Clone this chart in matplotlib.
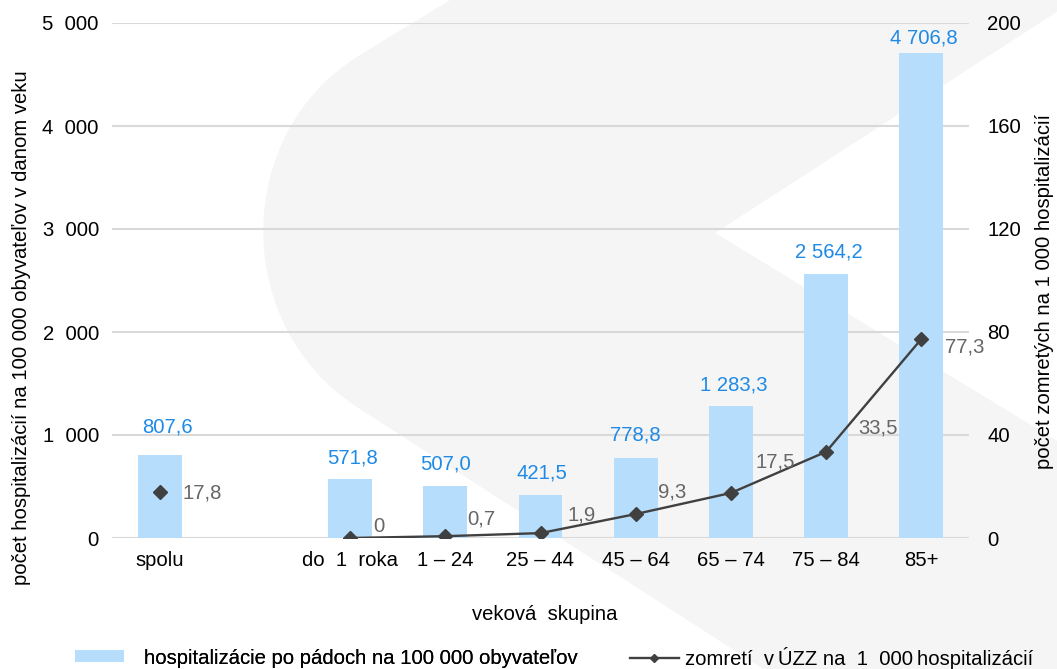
import numpy as np
import matplotlib.pyplot as plt
from matplotlib.path import Path
from matplotlib.patches import PathPatch, Patch
from matplotlib.lines import Line2D

plt.rcParams['font.family'] = ['Liberation Sans', 'DejaVu Sans']
plt.rcParams['font.size'] = 14.6

# vekové skupiny (druhá pozícia je prázdna medzera za "spolu")
skupiny = ["spolu", "", "do  1  roka", "1 – 24", "25 – 44", "45 – 64",
           "65 – 74", "75 – 84", "85+"]
hospitalizacie = [807.6, np.nan, 571.8, 507.0, 421.5, 778.8, 1283.3, 2564.2, 4706.8]
zomreti = [17.8, np.nan, 0.0, 0.7, 1.9, 9.3, 17.5, 33.5, 77.3]

lave_ticky = [0, 1000, 2000, 3000, 4000, 5000]
lave_popisy = ["0", "1  000", "2  000", "3  000", "4  000", "5  000"]
prave_ticky = [0, 40, 80, 120, 160, 200]
prave_popisy = ["0", "40", "80", "120", "160", "200"]

# posuny popiskov v pixeloch (dx, dy)
posun_stlpce = [(8, 28), None, (2, 21), (0, 22), (1, 22), (0, 23), (3, 21), (3, 22), (2, 15)]
posun_ciara = [(23, -1), None, (23, 11), (22, 17), (27, 18), (22, 22), (25, 31), (32, 24), (24, -8)]

W, H = 1057, 669
fig = plt.figure(figsize=(W / 100, H / 100), dpi=100)


def px(x, y):
    return (x / W, 1 - y / H)


# sivé logo v pozadí
verts = [px(460, -6), px(360, 55), px(231, 134), px(231, 328), px(360, 409),
         px(1120, 899), px(1120, 479), px(715, 233), px(1120, -29), px(460, -6)]
codes = [Path.MOVETO, Path.LINETO, Path.CURVE4, Path.CURVE4, Path.CURVE4,
         Path.LINETO, Path.LINETO, Path.LINETO, Path.LINETO, Path.CLOSEPOLY]
logo = PathPatch(Path(verts, codes), facecolor='#f5f5f5', edgecolor='none',
                 transform=fig.transFigure, zorder=-5)
fig.add_artist(logo)

ax = fig.add_axes([112 / W, (H - 538) / H, 857 / W, 515 / H])
ax.set_facecolor('none')
ax2 = ax.twinx()
ax2.set_facecolor('none')

x = np.arange(len(skupiny))
bar_color = '#b6ddfb'
line_color = '#404040'
blue = '#1e8ae6'
gray = '#666666'

ax.bar(x, hospitalizacie, width=0.46, color=bar_color, zorder=2)
ax2.plot(x, zomreti, color=line_color, lw=1.7, marker='D', ms=7, zorder=3)

for i, v in enumerate(hospitalizacie):
    if np.isnan(v):
        continue
    txt = f"{v:,.1f}".replace(",", " ").replace(".", ",")
    dx, dy = posun_stlpce[i]
    ax.annotate(txt, (x[i], v), xytext=(dx, dy), textcoords='offset pixels',
                ha='center', va='center', color=blue, zorder=4)

for i, v in enumerate(zomreti):
    if np.isnan(v):
        continue
    txt = "0" if v == 0 else f"{v:.1f}".replace(".", ",")
    dx, dy = posun_ciara[i]
    ax2.annotate(txt, (x[i], v), xytext=(dx, dy), textcoords='offset pixels',
                 ha='left', va='center', color=gray, zorder=4)

ax.set_xlim(-0.5, len(skupiny) - 0.5)
ax.set_ylim(0, 5000)
ax2.set_ylim(0, 200)
ax.set_yticks(lave_ticky)
ax.set_yticklabels(lave_popisy)
ax2.set_yticks(prave_ticky)
ax2.set_yticklabels(prave_popisy)
ax.set_xticks(x)
ax.set_xticklabels(skupiny)

ax.grid(axis='y', color='#d9d9d9', lw=1.5, zorder=0)
ax.set_axisbelow(True)
for a in (ax, ax2):
    for s in a.spines.values():
        s.set_visible(False)
ax.tick_params(axis='both', length=0)
ax.tick_params(axis='y', pad=9.5)
ax.tick_params(axis='x', pad=9)
ax2.tick_params(axis='y', length=0, pad=13)

fig.text(22 / W, 1 - 328 / H, "počet hospitalizácií na 100 000 obyvateľov v danom veku",
         rotation=90, ha='center', va='center')
fig.text(1045 / W, 1 - 291 / H, "počet zomretých na 1 000 hospitalizácií",
         rotation=90, ha='center', va='center')
fig.text(545 / W, 1 - 614 / H, "veková  skupina", ha='center', va='center')

h1 = Patch(facecolor=bar_color, edgecolor='none')
h2 = Line2D([], [], color=line_color, lw=1.7, marker='D', ms=4)
leg1 = fig.legend([h1], ["hospitalizácie po pádoch na 100 000 obyvateľov"],
                  loc='center left', bbox_to_anchor=(75 / W, 1 - 658 / H),
                  frameon=False, borderpad=0, borderaxespad=0,
                  handlelength=2.4, handleheight=0.55, handletextpad=1.0)
leg2 = fig.legend([h2], ["zomretí  v\u2009ÚZZ na  1  000\u2009hospitalizácií"],
                  loc='center left', bbox_to_anchor=(630 / W, 1 - 658 / H),
                  frameon=False, borderpad=0, borderaxespad=0,
                  handlelength=2.4, handletextpad=0.3)
fig.add_artist(leg1)

fig.savefig("out.png", dpi=100)
